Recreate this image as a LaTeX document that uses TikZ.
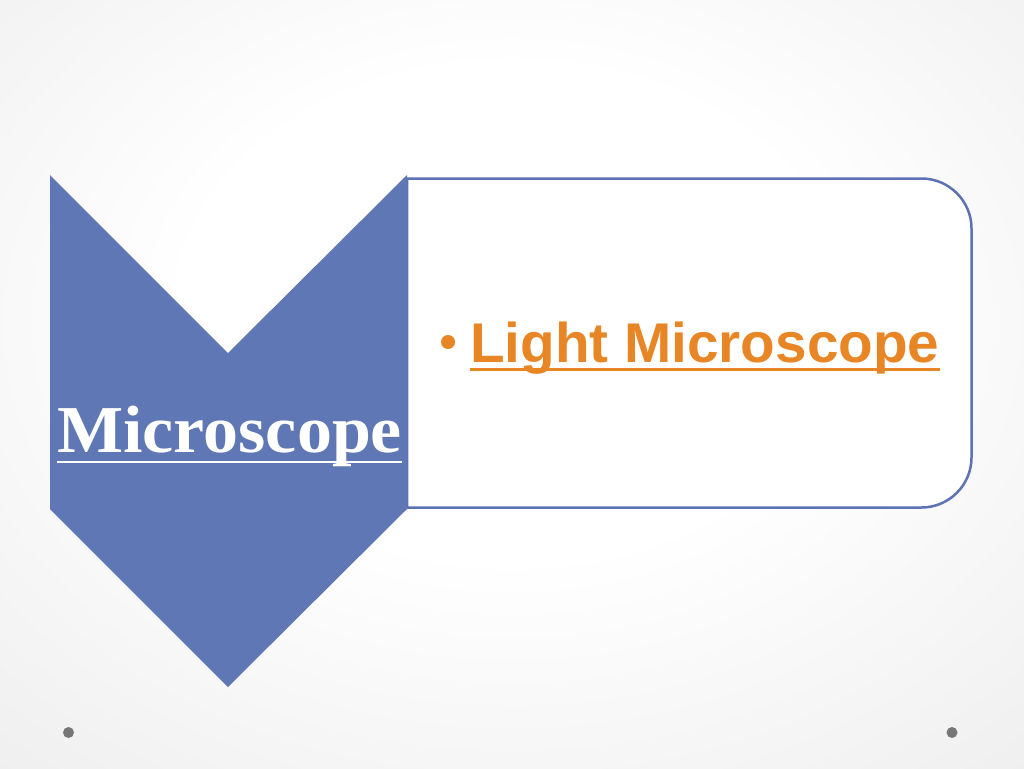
\documentclass[tikz,border=0pt]{standalone}
\usepackage{fontspec}
\setmainfont{Liberation Serif}
\newfontfamily\arialfam{Liberation Sans}[FakeStretch=1.012]
\newfontfamily\seriffam{Liberation Serif}[FakeStretch=1.045]
\definecolor{chev}{RGB}{96,119,181}
\definecolor{rectb}{RGB}{92,114,180}
\definecolor{orng}{RGB}{232,134,38}
\definecolor{dotg}{RGB}{118,118,118}
\definecolor{bgmid}{RGB}{230,230,230}
\definecolor{bgout}{RGB}{210,210,210}
\pgfdeclareradialshading{bgshade}{\pgfpoint{0bp}{6bp}}{color(0bp)=(white);color(16bp)=(white);color(50bp)=(bgmid);color(72bp)=(bgout)}
\tikzset{
  chevron/.style={fill=chev},
  box/.style={draw=rectb, line width=2.5pt, fill=white},
  maintext/.style={anchor=base west, inner sep=0pt, text=white, font=\seriffam\bfseries\fontsize{67}{72}\selectfont},
  itemtext/.style={anchor=base west, inner sep=0pt, text=orng, font=\arialfam\bfseries\fontsize{56}{60}\selectfont},
  dotmark/.style={fill=dotg}
}
\begin{document}
\begin{tikzpicture}[x=1pt,y=-1pt]
\useasboundingbox (0,0) rectangle (1024,768);
\shade[shading=bgshade] (0,0) rectangle (1024,768);
% rounded box
\draw[box] (407,178.5) -- (921.5,178.5) .. controls (949,178.5) and (971.5,201) .. (971.5,228.5)
  -- (971.5,457.5) .. controls (971.5,485) and (949,507.5) .. (921.5,507.5) -- (407,507.5) -- cycle;
% chevron
\fill[chevron] (50,175) -- (228,353) -- (407,175) -- (407,509) -- (228,687) -- (50,509) -- cycle;
% texts
\node[maintext] (mic) at (57,452) {Microscope};
\draw[white, line width=2.5pt] ([yshift=-10pt]mic.base west) -- ([yshift=-10pt]mic.base east);
\fill[orng] (448,342) circle (7);
\node[itemtext] (lm) at (470,362) {Light Microscope};
\draw[orng, line width=3pt] ([yshift=-7.5pt]lm.base west) -- ([yshift=-7.5pt]lm.base east);
% corner dots
\fill[dotmark] (68.5,732.5) circle (5.5);
\fill[dotmark] (952,732.5) circle (5.5);
\end{tikzpicture}
\end{document}
